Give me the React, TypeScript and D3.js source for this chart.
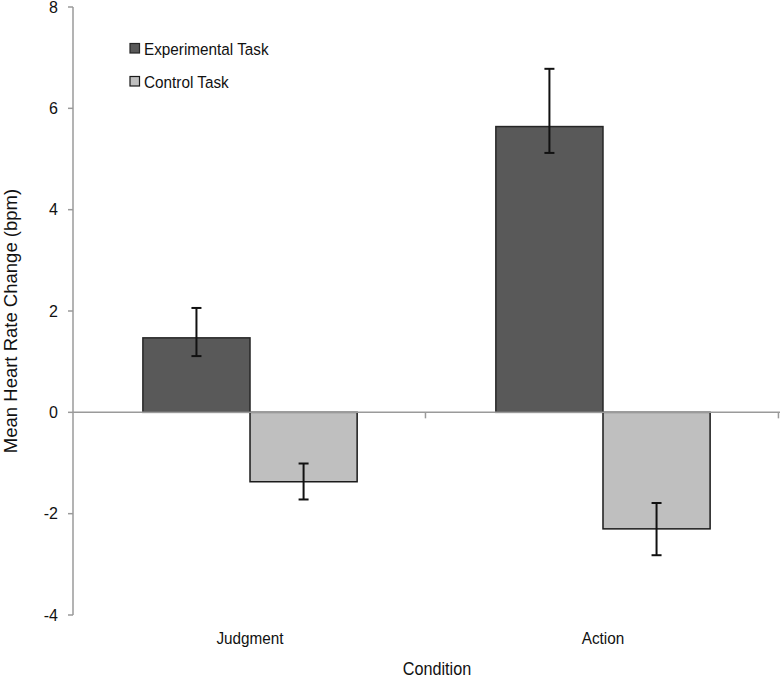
import React from "react";
import * as d3 from "d3";

const categories = ["Judgment", "Action"];
const seriesNames = ["Experimental Task", "Control Task"];
const meanValues = [
  [1.47, -1.37],
  [5.64, -2.3],
];
const errUpper = [
  [2.06, -1.01],
  [6.78, -1.79],
];
const errLower = [
  [1.11, -1.72],
  [5.12, -2.82],
];
const yTicks = [-4, -2, 0, 2, 4, 6, 8];
const yTitle = "Mean Heart Rate Change (bpm)";
const xTitle = "Condition";

const W = 780;
const H = 678;
const left = 73;
const right = 780;
const top = 7;
const bottom = 615;
const fills = ["#595959", "#bfbfbf"];
const strokes = ["#262626", "#1a1a1a"];
const font = "'Liberation Sans', Arial, sans-serif";
const squeeze = 0.9;

export default function App() {
  const y = d3.scaleLinear().domain([-4, 8]).range([bottom, top]);
  const x = d3
    .scaleBand<string>()
    .domain(categories)
    .range([left, right])
    .paddingInner(0.393)
    .paddingOuter(0.198);
  const sub = d3.scaleBand<number>().domain([0, 1]).range([0, x.bandwidth()]);
  const step = x.step();
  const x0 = y(0);
  return (
    <svg
      width={W}
      height={H}
      style={{ position: "absolute", left: 0, top: 0, background: "#fff" }}
    >
      {/* y axis */}
      <line x1={left} x2={left} y1={top} y2={bottom} stroke="#9a9a9a" strokeWidth={1.5} />
      {yTicks.map((t) => (
        <g key={t}>
          <line x1={left - 5} x2={left} y1={y(t)} y2={y(t)} stroke="#9a9a9a" strokeWidth={1.5} />
          <text
            x={58}
            y={y(t)}
            dy="0.35em"
            textAnchor="end"
            fontFamily={font}
            fontSize={16}
            fill="#111"
          >
            {t}
          </text>
        </g>
      ))}
      {/* bars */}
      {categories.map((c, i) =>
        meanValues[i].map((v, j) => {
          const bx = (x(c) as number) + (sub(j) as number);
          return (
            <rect
              key={c + j}
              x={bx}
              width={sub.bandwidth()}
              y={Math.min(y(v), x0)}
              height={Math.abs(y(v) - x0)}
              fill={fills[j]}
              stroke={strokes[j]}
              strokeWidth={1.5}
            />
          );
        })
      )}
      {/* zero axis */}
      <line x1={left} x2={right} y1={x0} y2={x0} stroke="#9a9a9a" strokeWidth={1.5} />
      {categories.map((c, i) => (
        <line
          key={"xt" + c}
          x1={left + step * (i + 1) - 0.5}
          x2={left + step * (i + 1) - 0.5}
          y1={x0}
          y2={x0 + 6}
          stroke="#9a9a9a"
          strokeWidth={1.5}
        />
      ))}
      {/* error bars */}
      {categories.map((c, i) =>
        meanValues[i].map((v, j) => {
          const cx = (x(c) as number) + (sub(j) as number) + sub.bandwidth() / 2;
          const yu = y(errUpper[i][j]);
          const yl = y(errLower[i][j]);
          return (
            <g key={"e" + c + j} stroke="#111" strokeWidth={2}>
              <line x1={cx} x2={cx} y1={yu} y2={yl} />
              <line x1={cx - 5} x2={cx + 5} y1={yu} y2={yu} />
              <line x1={cx - 5} x2={cx + 5} y1={yl} y2={yl} />
            </g>
          );
        })
      )}
      {/* category labels */}
      {categories.map((c) => (
        <text
          key={"l" + c}
          transform={`translate(${(x(c) as number) + x.bandwidth() / 2},644) scale(${squeeze},1)`}
          textAnchor="middle"
          fontFamily={font}
          fontSize={17}
          fill="#111"
        >
          {c}
        </text>
      ))}
      <text
        transform={`translate(437,675) scale(${squeeze},1)`}
        textAnchor="middle"
        fontFamily={font}
        fontSize={18}
        fill="#111"
      >
        {xTitle}
      </text>
      <text
        transform={`translate(17,321) rotate(-90)`}
        textAnchor="middle"
        fontFamily={font}
        fontSize={18.5}
        fill="#111"
      >
        {yTitle}
      </text>
      {/* legend */}
      {seriesNames.map((s, j) => (
        <g key={s} transform={`translate(130,${43.5 + j * 33})`}>
          <rect x={0} y={0} width={9.5} height={9.5} fill={fills[j]} stroke={strokes[j]} strokeWidth={1.2} />
          <text
            transform={`translate(14,11) scale(${squeeze},1)`}
            fontFamily={font}
            fontSize={17}
            fill="#111"
          >
            {s}
          </text>
        </g>
      ))}
    </svg>
  );
}
